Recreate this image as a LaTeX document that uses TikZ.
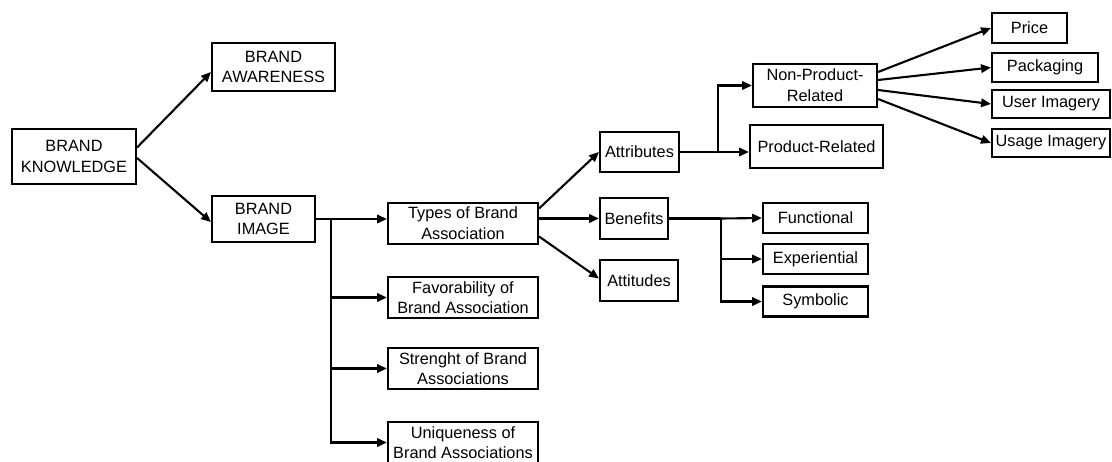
\documentclass[tikz,border=0pt]{standalone}
\usepackage{fontspec}
\setmainfont{Liberation Sans}
\usetikzlibrary{arrows.meta,calc}

\begin{document}
\begin{tikzpicture}[x=0.025cm,y=-0.025cm,
	box/.style 2 args={draw,line width=1.5pt,align=center,inner sep=0pt,
		minimum width=#1*0.025cm,minimum height=#2*0.025cm,
		font=\fontsize{11.6}{14.7}\selectfont},
	arr/.style={line width=1.5pt,-{Triangle[length=7pt,width=6pt]}},
	wire/.style={line width=1.5pt}]
	\useasboundingbox[fill=white] (0,0) rectangle (1112,461);
	
	% left part
	\node [box={124}{55}] (know) at (74,156.5) {BRAND\\KNOWLEDGE};
	\node [box={123}{48}] (aware) at (273.5,67) {BRAND\\AWARENESS};
	\node [box={103}{46}] (image) at (263.5,219) {BRAND\\IMAGE};
	
	\node [box={150}{41}] (types) at (463,223.5) {Types of Brand\\Association};
	\node [box={150}{41}] (favor) at (463,297.5) {Favorability of\\Brand Association};
	\node [box={150}{41}] (strength) at (463,368.5) {Strenght of Brand\\Associations};
	\node [box={150}{41}] (unique) at (463,442.5) {Uniqueness of\\Brand Associations};
	
	% types of association
	\node [box={79}{40}] (attr) at (639.5,152) {Attributes};
	\node [box={68}{41}] (bene) at (634,218.5) {Benefits};
	\node [box={78}{41}] (atti) at (639,280.5) {Attitudes};
	
	\node [box={124}{43}] (nonprod) at (815,85.5) {Non-Product-\\Related};
	\node [box={133}{43}] (prod) at (816.5,146.5) {Product-Related};
	
	\node [box={105}{30}] (func) at (815.5,218) {Functional};
	\node [box={105}{30}] (exper) at (815.5,259) {Experiential};
	\node [box={105}{30}] (symb) at (815.5,301.5) {Symbolic};
	
	\node [box={75}{30}] (price) at (1029.5,28) {Price};
	\node [box={106}{29}] (pack) at (1045,67.5) {Packaging};
	\node [box={118}{28}] (user) at (1051,104) {User Imagery};
	\node [box={118}{28}] (usage) at (1051,143) {Usage Imagery};
	
	\coordinate (jimg) at (331,219);
	\coordinate (jattr) at (718,152);
	\coordinate (jben) at (721,218.5);
	
	% connectors
	\draw [arr] ($(know.east)+(0,-9)$) -- ($(aware.west)+(0,5)$);
	\draw [arr] ($(know.east)+(0,1.5)$) -- ($(image.west)+(0,3)$);
	
	\draw [arr] (image.east) -- (image.east -| types.west);
	\foreach \n in {favor,strength,unique}
	\draw [arr] (jimg) |- (\n.west);
	
	\draw [arr] ($(types.east)+(0,-15)$) -- (attr.west);
	\draw [arr] (types.east |- bene.west) -- (bene.west);
	\draw [arr] ($(types.east)+(0,13)$) -- ($(atti.west)+(0,-2)$);
	
	\draw [wire] (attr.east) -- (jattr);
	\draw [arr] (jattr) |- (nonprod.west);
	\draw [arr] (jattr) -- (jattr -| prod.west);
	
	\draw [wire] (bene.east) -- (jben);
	\draw [arr] (jben) -- (func.west);
	\foreach \n in {exper,symb}
	\draw [arr] (jben) |- (\n.west);
	
	\foreach \n/\dy in {price/-13.5,pack/-5.5,user/4.5,usage/13.5}
	\draw [arr] ($(nonprod.east)+(0,\dy)$) -- (\n.west);
	
\end{tikzpicture}
\end{document}
